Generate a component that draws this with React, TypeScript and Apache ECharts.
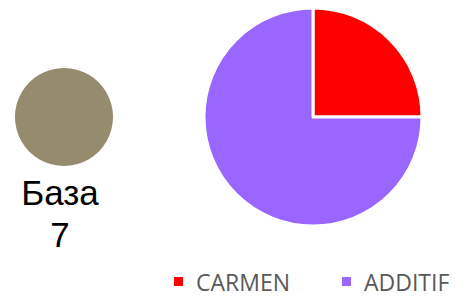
import React, { useEffect, useRef } from "react";
import * as echarts from "echarts";

const pieNames = ["CARMEN", "ADDITIF"];
const pieValues = [25, 75];
const pieColors = ["#FF0000", "#9966FF"];
const baseName = "База";
const baseValue = 7;

export default function App() {
  const ref = useRef<HTMLDivElement>(null);
  useEffect(() => {
    const chart = echarts.init(ref.current!, null, { renderer: "svg" });
    chart.setOption({
      animation: false,
      legend: {
        data: pieNames,
        left: 159,
        top: 257,
        itemWidth: 11,
        itemHeight: 11,
        itemGap: 50,
        icon: "rect",
        formatter: (n: string) => "{t|" + n + "}",
        textStyle: {
          fontSize: 23,
          color: "#595959",
          fontFamily: "Open Sans",
          rich: { t: { fontSize: 23, color: "#595959", fontFamily: "Open Sans", padding: [0, 0, 0, 7] } },
        },
      },
      series: [
        {
          type: "pie",
          center: [305, 109],
          radius: [0, 109],
          startAngle: 90,
          clockwise: true,
          label: { show: false },
          labelLine: { show: false },
          itemStyle: { borderColor: "#fff", borderWidth: 3 },
          data: pieNames.map((n, i) => ({ name: n, value: pieValues[i], itemStyle: { color: pieColors[i] } })),
        },
        {
          type: "pie",
          center: [56, 109],
          radius: [0, 49],
          label: { show: false },
          labelLine: { show: false },
          data: [{ name: baseName, value: baseValue, itemStyle: { color: "#958B6D" } }],
        },
      ],
      graphic: [
        {
          type: "text",
          x: 52,
          y: 163,
          style: {
            text: baseName + "\n" + baseValue,
            fontSize: 35,
            fontFamily: "Liberation Sans",
            fill: "#000",
            align: "center",
            lineHeight: 42,
          },
        },
      ],
    });
    return () => chart.dispose();
  }, []);
  return <div ref={ref} style={{ width: 463, height: 288 }} />;
}
